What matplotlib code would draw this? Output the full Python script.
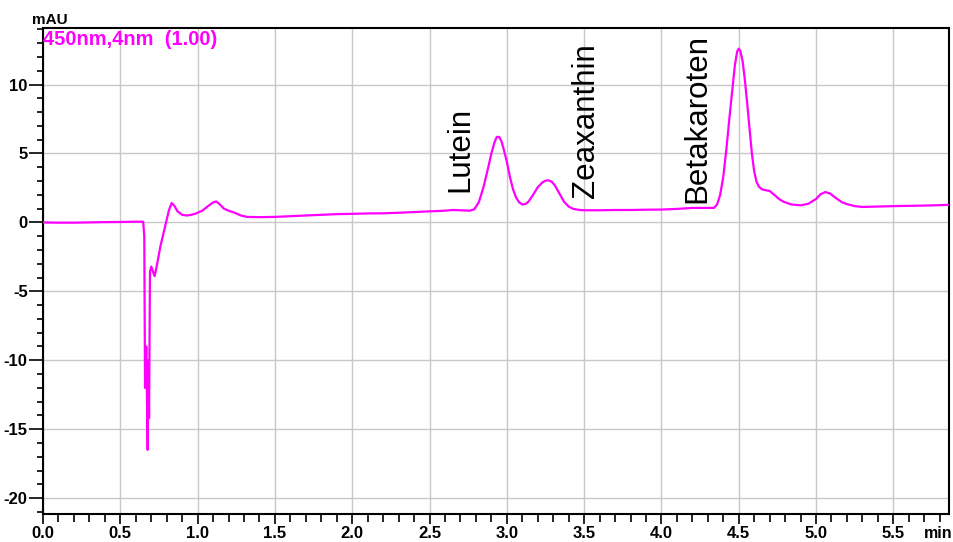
import matplotlib
matplotlib.use('Agg')
import matplotlib.pyplot as plt
from matplotlib.ticker import MultipleLocator

# Chromatogram trace, 450 nm detector (retention time in min, signal in mAU)
time_min = [
    0.000, 0.100, 0.200, 0.300, 0.400, 0.500, 0.600, 0.648, 0.655, 0.660,
    0.668, 0.677, 0.682, 0.686, 0.692, 0.700, 0.712, 0.722, 0.735, 0.760,
    0.790, 0.815, 0.832, 0.850, 0.870, 0.900, 0.930, 0.960, 0.990, 1.030,
    1.070, 1.100, 1.120, 1.140, 1.170, 1.200, 1.240, 1.280, 1.320, 1.400,
    1.500, 1.600, 1.700, 1.800, 1.900, 2.000, 2.100, 2.200, 2.300, 2.400,
    2.500, 2.600, 2.650, 2.700, 2.760, 2.790, 2.820, 2.850, 2.880, 2.900,
    2.920, 2.935, 2.950, 2.965, 2.980, 3.000, 3.020, 3.040, 3.060, 3.080,
    3.100, 3.120, 3.140, 3.170, 3.200, 3.230, 3.250, 3.270, 3.290, 3.310,
    3.340, 3.370, 3.400, 3.430, 3.470, 3.500, 3.600, 3.700, 3.800, 3.900,
    4.000, 4.100, 4.200, 4.300, 4.340, 4.360, 4.380, 4.400, 4.420, 4.440,
    4.460, 4.475, 4.490, 4.500, 4.510, 4.525, 4.540, 4.555, 4.570, 4.585,
    4.600, 4.615, 4.630, 4.650, 4.680, 4.700, 4.730, 4.760, 4.790, 4.840,
    4.900, 4.950, 5.000, 5.030, 5.060, 5.090, 5.130, 5.170, 5.200, 5.250,
    5.300, 5.400, 5.500, 5.600, 5.700, 5.800, 5.860,
]
signal_mau = [
    0.00, -0.02, -0.02, 0.00, 0.02, 0.03, 0.05, 0.05, -1.0, -12.0,
    -9.0, -16.5, -10.0, -14.2, -3.6, -3.2, -3.6, -3.9, -3.2, -1.7,
    -0.3, 0.9, 1.4, 1.2, 0.8, 0.55, 0.50, 0.55, 0.65, 0.85,
    1.20, 1.45, 1.52, 1.35, 1.00, 0.85, 0.70, 0.50, 0.40, 0.38,
    0.40, 0.45, 0.50, 0.55, 0.60, 0.62, 0.65, 0.66, 0.70, 0.75,
    0.80, 0.85, 0.90, 0.88, 0.85, 0.95, 1.50, 2.60, 4.00, 5.00,
    5.80, 6.20, 6.20, 5.90, 5.30, 4.40, 3.30, 2.40, 1.80, 1.45,
    1.30, 1.33, 1.50, 2.00, 2.55, 2.90, 3.03, 3.05, 2.95, 2.70,
    2.10, 1.50, 1.15, 0.98, 0.90, 0.88, 0.88, 0.90, 0.90, 0.92,
    0.93, 0.98, 1.05, 1.05, 1.05, 1.30, 2.00, 3.30, 5.30, 7.60,
    9.80, 11.4, 12.4, 12.6, 12.45, 11.7, 10.3, 8.60, 6.80, 5.00,
    3.70, 2.95, 2.60, 2.40, 2.32, 2.28, 2.00, 1.70, 1.50, 1.30,
    1.24, 1.35, 1.70, 2.05, 2.20, 2.10, 1.75, 1.45, 1.33, 1.18,
    1.12, 1.15, 1.18, 1.20, 1.22, 1.25, 1.28,
]

# Peak annotations
peak_names = ['Lutein', 'Zeaxanthin', 'Betakaroten']
peak_label_x = [2.70, 3.51, 4.23]
peak_label_y = [2.2, 1.8, 1.4]

x_ticks = [0.0, 0.5, 1.0, 1.5, 2.0, 2.5, 3.0, 3.5, 4.0, 4.5, 5.0, 5.5]
y_ticks = [-20, -15, -10, -5, 0, 5, 10]

plt.rcParams['font.family'] = ['Liberation Sans', 'DejaVu Sans']

fig = plt.figure(figsize=(9.54, 5.42), dpi=100)
ax = fig.add_axes([43 / 954, 1 - 514 / 542, 906 / 954, 486 / 542])

ax.plot(time_min, signal_mau, color='#ff00ff', linewidth=1.6, zorder=3)

ax.set_xlim(0, 5.86)
ax.set_ylim(-21.15, 14.1)
ax.set_xticks(x_ticks)
ax.set_xticklabels([f'{v:.1f}' for v in x_ticks])
ax.set_yticks(y_ticks)
ax.set_yticklabels([str(v) for v in y_ticks])
ax.xaxis.set_minor_locator(MultipleLocator(0.1))
ax.yaxis.set_minor_locator(MultipleLocator(1))

ax.grid(True, which='major', color='#c8c8c8', linewidth=1.0)
ax.set_axisbelow(True)
ax.tick_params(axis='x', which='major', length=7, width=1.2, pad=1.5,
               labelsize=12)
ax.tick_params(axis='x', which='minor', length=6, width=1.2)
ax.tick_params(axis='y', which='major', length=10, width=1.2, pad=1,
               labelsize=12)
ax.tick_params(axis='y', which='minor', length=4, width=1.2)
for lbl in ax.get_xticklabels() + ax.get_yticklabels():
    lbl.set_fontweight('bold')
for sp in ax.spines.values():
    sp.set_linewidth(1.5)
    sp.set_color('black')

# Peak names, vertical
for name, px, py in zip(peak_names, peak_label_x, peak_label_y):
    ax.text(px, py, name, rotation=90, ha='center', va='bottom',
            fontsize=22.5, color='black')

# Channel label
ax.text(0.0, 0.995, '450nm,4nm  (1.00)', transform=ax.transAxes,
        ha='left', va='top', fontsize=14.5, fontweight='bold', color='#ff00ff')

# Axis unit labels
fig.text(50 / 954, 1 - 20 / 542, 'mAU', ha='center', va='center',
         fontsize=11, fontweight='bold')
fig.text(938 / 954, 1 - 533 / 542, 'min', ha='center', va='center',
         fontsize=11.5, fontweight='bold')

fig.savefig('out.png', dpi=100)
